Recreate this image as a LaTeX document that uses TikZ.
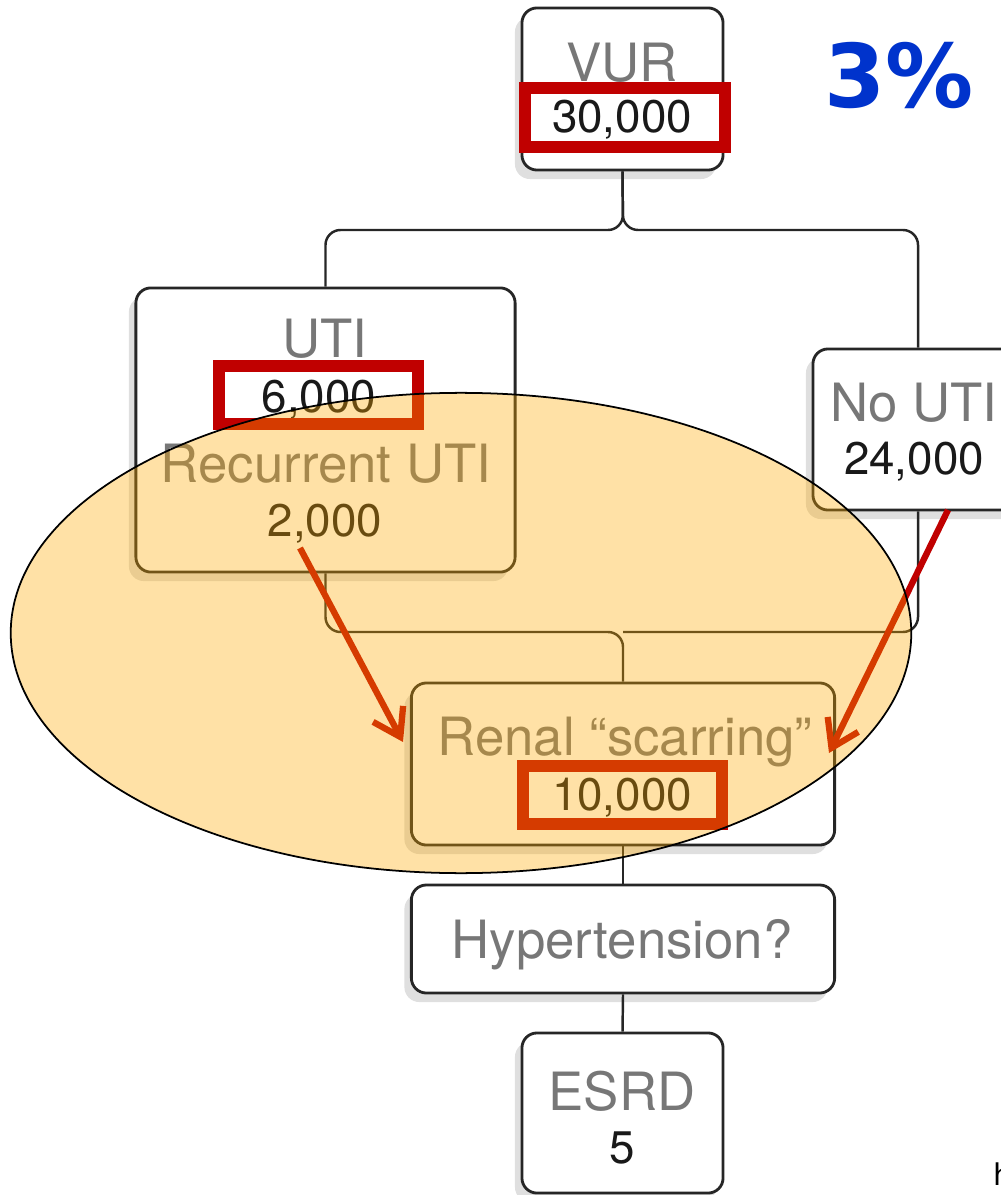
\documentclass[tikz,border=0pt]{standalone}
\usepackage{fontspec}
\setmainfont{TeX Gyre Heros}
\newfontfamily\pctfont{DejaVu Sans}
\usetikzlibrary{arrows.meta,shadows}

\definecolor{boxtitle}{RGB}{119,119,119}
\definecolor{boxnum}{RGB}{25,25,25}
\definecolor{markred}{RGB}{192,0,0}
\definecolor{blobfill}{RGB}{255,170,0}
\definecolor{pctblue}{RGB}{0,51,204}

\tikzset{
  flowbox/.style={draw=black!85, line width=0.8pt, fill=white, rounded corners=1.5mm,
    inner sep=0pt, drop shadow={shadow xshift=-0.7mm, shadow yshift=-0.9mm, opacity=0.25}},
  title/.style={anchor=base, text=boxtitle, font=\fontsize{15}{15}\selectfont},
  count/.style={anchor=base, text=boxnum, font=\fontsize{13}{13}\selectfont},
  conn/.style={black!85, line width=0.7pt, rounded corners=1.5mm},
  markbox/.style={draw=markred, line width=3.3pt},
  callout/.style={markred, line width=1.8pt, -{Straight Barb[length=2.6mm,width=3.4mm]}},
}

\begin{document}
\begin{tikzpicture}[x=0.01cm, y=-0.01cm]

  \useasboundingbox (0,0) rectangle (1001,1195);

  % Boxes
  \node[flowbox, minimum width=2.01cm, minimum height=1.62cm] (vur) at (622.5,89) {};
  \node[flowbox, minimum width=3.79cm, minimum height=2.84cm] (uti) at (325.5,430) {};
  \node[flowbox, minimum width=2.10cm, minimum height=1.61cm] (noutI) at (918,429.5) {};
  \node[flowbox, minimum width=4.23cm, minimum height=1.62cm] (renal) at (623,764) {};
  \node[flowbox, minimum width=4.23cm, minimum height=1.08cm] (hyper) at (623,939) {};
  \node[flowbox, minimum width=2.01cm, minimum height=1.60cm] (esrd) at (622.5,1113) {};

  % Connectors
  \coordinate (fork) at (623,230);
  \coordinate (merge) at (623,632);
  \draw[conn] (vur.south) -- (fork) -| (uti.north);
  \draw[conn] (vur.south) -- (fork) -| (noutI.north);
  \draw[conn] (uti.south) |- (merge) -- (renal.north);
  \draw[conn] (noutI.south) |- (merge);
  \draw[conn] (renal.south) -- (hyper.north);
  \draw[conn] (hyper.south) -- (esrd.north);

  % Box texts
  \node[title] (tvur) at (622,82) {VUR};
  \node[count] (nvur) at (622,133) {30,000};
  \node[title] (tuti) at (325,358) {UTI};
  \node[count] (nuti) at (319,413) {6,000};
  \node[title] (trec) at (326,483) {Recurrent UTI};
  \node[count] (nrec) at (325,537) {2,000};
  \node[title] (tno) at (914,422) {No UTI};
  \node[count] (nno) at (914,475) {24,000};
  \node[title] (trenal) at (625,755) {Renal “scarring”};
  \node[count] (nrenal) at (622,810) {10,000};
  \node[title] (thyper) at (622,958) {Hypertension?};
  \node[title] (tesrd) at (622,1110) {ESRD};
  \node[count] (nesrd) at (622,1163) {5};

  % Red marks
  \draw[markbox] (525,88) rectangle (725,147);
  \draw[markbox] (219,366) rectangle (418,424);
  \draw[markbox] (523,766) rectangle (722,824);

  % Arrows into the scarring box
  \coordinate (recfrom) at (300,548);
  \coordinate (recto) at (403,742);
  \coordinate (nofrom) at (948,510);
  \coordinate (noto) at (829,753);
  \draw[callout] (recfrom) -- (recto);
  \draw[callout] (nofrom) -- (noto);

  % Highlight
  \draw[black, line width=0.5pt, fill=blobfill, fill opacity=0.35] (461,633) ellipse [x radius=4.5cm, y radius=2.4cm];

  \node[anchor=base, text=pctblue, font=\pctfont\bfseries\fontsize{25}{25}\selectfont] (pct) at (899,108) {3\%};
  \node[anchor=base west, inner sep=0pt, font=\pctfont\fontsize{8.5}{8.5}\selectfont] (cut) at (993,1185) {h};

\end{tikzpicture}
\end{document}
